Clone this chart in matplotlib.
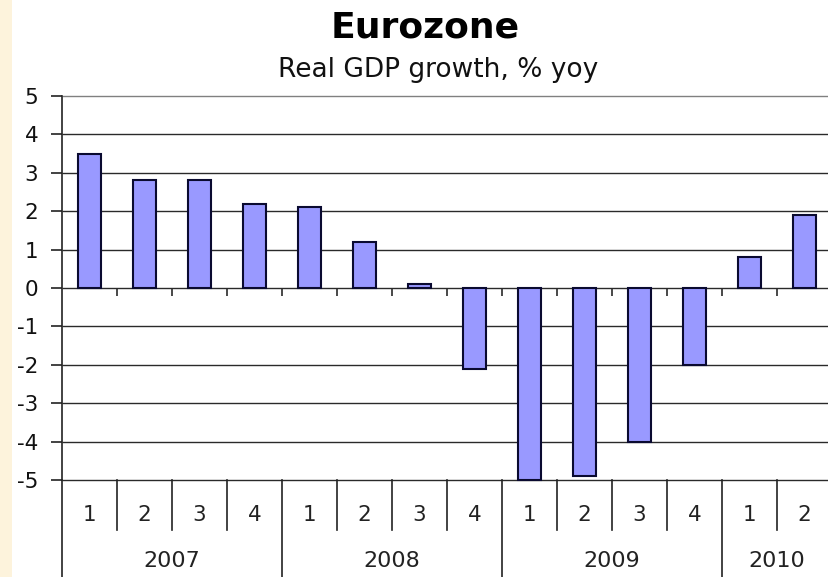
import matplotlib.pyplot as plt
import matplotlib.transforms as mtransforms
import numpy as np

# Croissance du PIB réel, zone euro, % en glissement annuel (trimestriel)
years = ["2007", "2008", "2009", "2010"]
quarters_per_year = [4, 4, 4, 2]
quarter_labels = ["1", "2", "3", "4", "1", "2", "3", "4", "1", "2", "3", "4", "1", "2"]
gdp_growth = [3.5, 2.8, 2.8, 2.2, 2.1, 1.2, 0.1, -2.1, -5.0, -4.9, -4.0, -2.0, 0.8, 1.9]
yticks = [5, 4, 3, 2, 1, 0, -1, -2, -3, -4, -5]

W, H = 829, 577
fig = plt.figure(figsize=(W / 100, H / 100), dpi=100)
fig.patch.set_facecolor("white")

# bande crème à gauche
fig.patches.append(plt.Rectangle((0, 0), 12 / W, 1, transform=fig.transFigure,
                                 facecolor="#fdf3dc", edgecolor="none", zorder=0))

# zone du graphique (le bord droit dépasse légèrement l'image)
ax = fig.add_axes([62 / W, 97 / H, 770 / W, 384 / H])
n = len(gdp_growth)
x = np.arange(n) + 0.5
ax.set_xlim(0, n)
ax.set_ylim(-5, 5)

for s in ["top", "right", "bottom"]:
    ax.spines[s].set_visible(False)
ax.spines["left"].set_color("#222222")
ax.spines["left"].set_linewidth(1.2)

# lignes de grille
ax.hlines([t for t in yticks if t != 5], 0, n, color="#2a2a2a", lw=1.0, zorder=1, clip_on=False)
ax.hlines([5], 0, n, color="#808080", lw=1.0, zorder=1, clip_on=False)

bars = ax.bar(x, gdp_growth, width=0.43, color="#9999ff", edgecolor="#0a0a30",
              linewidth=1.5, zorder=3, clip_on=False)

# petites graduations sur l'axe zéro
bounds = np.arange(1, n)
ax.vlines(bounds, -0.2, 0, color="#2a2a2a", lw=1.2, zorder=2)

ax.set_yticks(yticks)
ax.set_yticklabels([str(t) for t in yticks], fontsize=15.5, color="#111111")
ax.tick_params(axis="y", direction="out", length=8, width=1.2, pad=9, color="#222222")
ax.set_xticks([])

# axe des catégories en deux niveaux : trimestres puis années
trans = mtransforms.blended_transform_factory(ax.transData, ax.transAxes)
px = 1 / 384.0
for xi, q in zip(x, quarter_labels):
    ax.text(xi, -35 * px, q, transform=trans, ha="center", va="center",
            fontsize=15.5, color="#222222")

year_bounds = np.cumsum([0] + quarters_per_year)
for b in range(1, n):
    if b in year_bounds:
        ax.plot([b, b], [0, -0.3], transform=trans, color="#222222", lw=1.2, clip_on=False)
    else:
        ax.plot([b, b], [0, -50 * px], transform=trans, color="#222222", lw=1.2, clip_on=False)
ax.plot([0, 0], [0, -0.3], transform=trans, color="#222222", lw=1.2, clip_on=False)

for i, yr in enumerate(years):
    mid = (year_bounds[i] + year_bounds[i + 1]) / 2
    ax.text(mid, -81 * px, yr, transform=trans, ha="center", va="center",
            fontsize=16, color="#222222")

# titres
fig.text(425 / W, 1 - 37 / H, "Eurozone", ha="center", va="baseline",
         fontsize=26, fontweight="bold", color="black")
fig.text(438 / W, 1 - 77 / H, "Real GDP growth, % yoy", ha="center", va="baseline",
         fontsize=19, color="#111111")

fig.savefig("out.png", dpi=100)
